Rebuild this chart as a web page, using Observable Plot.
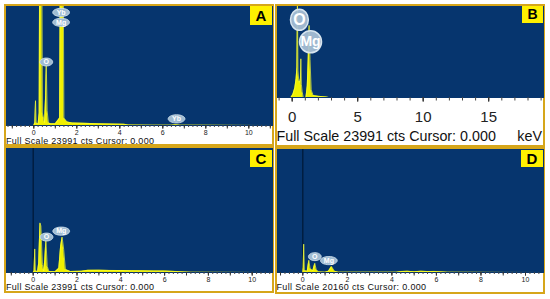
<!DOCTYPE html>
<html><head><meta charset="utf-8">
<script src="https://cdn.jsdelivr.net/npm/d3@7"></script>
<script src="https://cdn.jsdelivr.net/npm/@observablehq/plot@0.6"></script>
<style>
body{margin:0;background:#fff;font-family:"Liberation Sans",Arial,sans-serif;}
#fig{position:relative;width:550px;height:299px;overflow:hidden;background:#fff}
.panel{position:absolute;box-sizing:border-box;background:#fff}
.panel svg{position:absolute;left:0;top:0;display:block}
.tag{position:absolute;right:0;background:#fff000;color:#000;font-weight:bold;text-align:center}
.note{position:absolute;white-space:nowrap;color:#111;line-height:0.8}
</style></head><body><div id="fig"></div>
<script>
// ---------- data ----------
const fullScaleA = 23991, fullScaleB = 23991, fullScaleC = 23991, fullScaleD = 20160;

// Panel A spectrum
const keVA = [-1.3, 0.0, 0.05, 0.08, 0.11, 0.2, 0.25, 0.29, 0.35, 0.4, 0.5, 0.55, 0.58, 0.62, 0.68, 0.8, 1.0, 1.2, 1.26, 1.34, 1.4, 1.55, 1.8, 2.3, 3.0, 3.6, 4.2, 4.4, 5.5, 6.4, 6.6, 6.8, 8.0, 11.2];
const ctsA = [0, 0, 600, 5000, 500, 300, 2500, 60000, 60000, 2500, 600, 6000, 12400, 3000, 500, 350, 350, 1500, 60000, 60000, 1500, 700, 500, 450, 350, 300, 250, 80, 60, 60, 150, 60, 40, 0];
const elemA = ["Yb", "Mg", "O", "Yb"];
const elemKeVA = [1.27, 1.27, 0.58, 6.64];
const elemCtsA = [22800, 20800, 12800, 1340];
const ticksA = [0, 2, 4, 6, 8, 10];

// Panel B spectrum
const keVB = [-1.1, -0.1, 0.05, 0.2, 0.3, 0.36, 0.4, 0.44, 0.5, 0.58, 0.63, 0.66, 0.7, 0.76, 0.85, 1.05, 1.15, 1.22, 1.29, 1.36, 1.45, 1.6, 2.0, 2.6, 2.8, 19.3];
const ctsB = [0, 0, 800, 2500, 5000, 8000, 24500, 7000, 4500, 4000, 5000, 10200, 3500, 1500, 0, 0, 3000, 10000, 19000, 10000, 2000, 500, 300, 150, 0, 0];
const elemB = ["O", "Mg"];
const elemKeVB = [0.55, 1.4];
const elemCtsB = [20500, 14680];
const ticksB = [0, 5, 10, 15];

// Panel C spectrum
const keVC = [-1.3, 0.0, 0.04, 0.07, 0.1, 0.2, 0.25, 0.31, 0.35, 0.42, 0.48, 0.53, 0.58, 0.64, 0.72, 1.0, 1.17, 1.25, 1.32, 1.39, 1.47, 1.7, 2.2, 2.5, 3.0, 3.5, 4.0, 4.5, 5.0, 5.5, 6.0, 6.5, 6.9, 7.2, 11];
const ctsC = [0, 0, 300, 4560, 300, 200, 1800, 9600, 9000, 1500, 300, 2500, 6400, 1200, 200, 150, 800, 5000, 6850, 4500, 600, 200, 250, 420, 450, 400, 380, 350, 320, 300, 280, 200, 120, 40, 0];
const elemC = ["O", "Mg"];
const elemKeVC = [0.61, 1.28];
const elemCtsC = [6860, 8000];
const ticksC = [0, 2, 4, 6, 8, 10];

// Panel D spectrum
const keVD = [-1.2, 0.0, 0.02, 0.04, 0.07, 0.2, 0.27, 0.33, 0.45, 0.54, 0.6, 0.7, 1.0, 1.15, 1.29, 1.42, 1.6, 4.2, 4.4, 4.7, 5.0, 5.3, 5.6, 5.9, 6.3, 6.5, 11];
const ctsD = [0, 0, 800, 4650, 300, 200, 2000, 600, 300, 1500, 500, 100, 50, 200, 970, 200, 50, 50, 150, 200, 120, 200, 150, 180, 100, 40, 0];
const elemD = ["O", "Mg"];
const elemKeVD = [0.54, 1.17];
const elemCtsD = [2600, 1950];
const ticksD = [0, 2, 4, 6, 8, 10];

const panelLetters = ["A", "B", "C", "D"];
const noteA = "Full Scale 23991 cts Cursor: 0.000";
const noteB = "Full Scale 23991 cts Cursor: 0.000";
const noteC = "Full Scale 23991 cts Cursor: 0.000";
const noteD = "Full Scale 20160 cts Cursor: 0.000";
const unitB = "keV";

// ---------- styling / layout ----------
const BLUE = "#06356e", YEL = "#f0f000", GOLD = "#d6a61a";
const NOTE_LH = 0.8;

function ellipse(ratio) {
  return {draw(ctx, size) {
    const r = Math.sqrt(size / Math.PI), rx = r * ratio, ry = r, k = 0.5523;
    ctx.moveTo(rx, 0);
    ctx.bezierCurveTo(rx, ry * k, rx * k, ry, 0, ry);
    ctx.bezierCurveTo(-rx * k, ry, -rx, ry * k, -rx, 0);
    ctx.bezierCurveTo(-rx, -ry * k, -rx * k, -ry, 0, -ry);
    ctx.bezierCurveTo(rx * k, -ry, rx, -ry * k, rx, 0);
    ctx.closePath();
  }};
}

const panels = [
  {letter: panelLetters[0], box: [4, 4, 274, 146], blueBottom: 125, zero: 33.3, ppk: 21.5, fs: fullScaleA,
   keV: keVA, cts: ctsA, elem: elemA, elemKeV: elemKeVA, elemCts: elemCtsA, labels: ticksA,
   minor: [-1.2, 11.2, 0.2], major: [-1, 11, 1], minorLen: 2, majorLen: 3.5, tickFont: 7, tickY: 131.9,
   note: noteA, noteFont: 9, noteSpacing: 0.3, noteY: 141.1, noteX: 6, tagFont: 15, tagTop: 0, tagW: 22, tagH: 19,
   bubble: "small", zeroLine: false},
  {letter: panelLetters[1], box: [275, 4, 545, 147], blueBottom: 97, zero: 291.7, ppk: 13.1, fs: fullScaleB,
   keV: keVB, cts: ctsB, elem: elemB, elemKeV: elemKeVB, elemCts: elemCtsB, labels: ticksB,
   minor: [-1, 20, 1], major: [0, 20, 5], minorLen: 3.5, majorLen: 4.5, tickFont: 15, tickY: 116.5,
   note: noteB, noteFont: 14.3, noteSpacing: 0, noteY: 136.7, noteX: 276.5, unit: unitB, tagFont: 14, tagTop: 0, tagW: 21, tagH: 17,
   bubble: "big", zeroLine: false},
  {letter: panelLetters[2], box: [4, 146, 274, 293], blueBottom: 272, zero: 32.7, ppk: 21.9, fs: fullScaleC,
   keV: keVC, cts: ctsC, elem: elemC, elemKeV: elemKeVC, elemCts: elemCtsC, labels: ticksC,
   minor: [-1.2, 11, 0.2], major: [-1, 11, 1], minorLen: 2, majorLen: 3.5, tickFont: 7, tickY: 278.5,
   note: noteC, noteFont: 9, noteSpacing: 0.3, noteY: 287.7, noteX: 6, tagFont: 15, tagTop: 2, tagW: 22, tagH: 17,
   bubble: "small", zeroLine: true},
  {letter: panelLetters[3], box: [275, 147, 545, 294], blueBottom: 272, zero: 302.3, ppk: 22.27, fs: fullScaleD,
   keV: keVD, cts: ctsD, elem: elemD, elemKeV: elemKeVD, elemCts: elemCtsD, labels: ticksD,
   minor: [-1.2, 11, 0.2], major: [-1, 11, 1], minorLen: 2, majorLen: 3.5, tickFont: 7, tickY: 278.5,
   note: noteD, noteFont: 9, noteSpacing: 0.35, noteY: 287.8, noteX: 276.5, tagFont: 15, tagTop: 1, tagW: 22, tagH: 17,
   bubble: "small", zeroLine: true}
];

const fig = document.getElementById("fig");
const bw = 2;

for (const p of panels) {
  const [x0, y0, x1, y1] = p.box;
  const div = document.createElement("div");
  div.className = "panel";
  div.style.cssText = `left:${x0}px;top:${y0}px;width:${x1 - x0}px;height:${y1 - y0}px;border:${bw}px solid ${GOLD}`;
  const W = x1 - x0 - 2 * bw, H = y1 - y0 - 2 * bw, ox = x0 + bw, oy = y0 + bw;
  const blueH = p.blueBottom - oy;
  const zeroIn = p.zero - ox;
  const domain = [-zeroIn / p.ppk, (W - zeroIn) / p.ppk];
  const inDomain = v => v >= domain[0] + 0.02 && v <= domain[1] - 0.02;
  const spec = p.keV.map((k, i) => ({keV: k, cts: p.cts[i]}));
  const bub = p.elem.map((e, i) => ({el: e, keV: p.elemKeV[i], cts: p.elemCts[i]}));
  const minorTicks = d3.range(p.minor[0], p.minor[1] + 1e-9, p.minor[2]).map(v => +v.toFixed(2)).filter(inDomain);
  const majorTicks = d3.range(p.major[0], p.major[1] + 1e-9, p.major[2]).map(v => +v.toFixed(2)).filter(inDomain);
  const pad = (p.tickY - oy - blueH) - 0.35 * p.tickFont - p.majorLen;

  const marks = [
    Plot.frame({fill: BLUE, stroke: BLUE}),
  ];
  if (p.zeroLine) marks.push(Plot.ruleX([0], {stroke: "#011a3a", strokeWidth: 1.3}));
  marks.push(
    Plot.areaY(spec, {x: "keV", y: "cts", fill: YEL, curve: "linear", clip: true}),
    Plot.lineY(spec, {x: "keV", y: "cts", stroke: "#f6ff3a", strokeWidth: 0.7, curve: "linear", clip: true}),
    Plot.axisX({ticks: minorTicks, tickSize: p.minorLen, tickFormat: () => "", stroke: "#444", label: null}),
    Plot.axisX({ticks: majorTicks, tickSize: p.majorLen, tickFormat: () => "", stroke: "#333", label: null}),
    Plot.axisX({ticks: p.labels, tickSize: p.majorLen, tickPadding: pad, fontSize: p.tickFont, stroke: "#333", fill: "#222", label: null, tickFormat: d => String(d)})
  );
  const one = bub.filter(d => d.el.length === 1), two = bub.filter(d => d.el.length > 1);
  if (p.bubble === "small") {
    marks.push(
      Plot.dot(one, {x: "keV", y: "cts", r: 4, symbol: ellipse(1.6), fill: "#9fbcd3", stroke: "#d5e4ef", strokeWidth: 0.8}),
      Plot.dot(two, {x: "keV", y: "cts", r: 4.1, symbol: ellipse(2.05), fill: "#9fbcd3", stroke: "#d5e4ef", strokeWidth: 0.8}),
      Plot.text(bub, {x: "keV", y: "cts", text: "el", fill: "#ffffff", fontSize: 7, fontWeight: "bold"})
    );
  } else {
    marks.push(
      Plot.dot(one, {x: "keV", y: "cts", r: 10.5, symbol: ellipse(0.85), fill: "#a6bfd4", fillOpacity: 0.95, stroke: "#d7e5ef", strokeWidth: 1.5}),
      Plot.dot(two, {x: "keV", y: "cts", r: 11, fill: "#a6bfd4", fillOpacity: 0.95, stroke: "#d7e5ef", strokeWidth: 1.5}),
      Plot.text(one, {x: "keV", y: "cts", text: "el", fill: "#ffffff", fontSize: 16, fontWeight: "bold"}),
      Plot.text(two, {x: "keV", y: "cts", text: "el", fill: "#ffffff", fontSize: 14, fontWeight: "bold"})
    );
  }

  const svg = Plot.plot({
    width: W, height: H,
    marginTop: 0, marginLeft: 0, marginRight: 0, marginBottom: H - blueH,
    x: {domain, label: null},
    y: {domain: [0, p.fs], axis: null},
    style: {background: "transparent", fontFamily: '"Liberation Sans", Arial, sans-serif', overflow: "visible"},
    marks
  });
  div.appendChild(svg);

  const tag = document.createElement("div");
  tag.className = "tag";
  tag.textContent = p.letter;
  tag.style.cssText += `top:${p.tagTop}px;width:${p.tagW}px;height:${p.tagH}px;font-size:${p.tagFont}px;line-height:${p.tagH}px;`;
  div.appendChild(tag);

  const capOff = (NOTE_LH / 2 - 0.0115) * p.noteFont;
  const note = document.createElement("div");
  note.className = "note";
  note.textContent = p.note;
  note.style.cssText += `left:${p.noteX - ox}px;top:${p.noteY - oy - capOff}px;font-size:${p.noteFont}px;letter-spacing:${p.noteSpacing}px;`;
  div.appendChild(note);

  if (p.unit) {
    const u = document.createElement("div");
    u.className = "note";
    u.textContent = p.unit;
    u.style.cssText += `right:1px;top:${p.noteY - oy - capOff}px;font-size:${p.noteFont}px;`;
    div.appendChild(u);
  }
  fig.appendChild(div);
}
</script></body></html>
